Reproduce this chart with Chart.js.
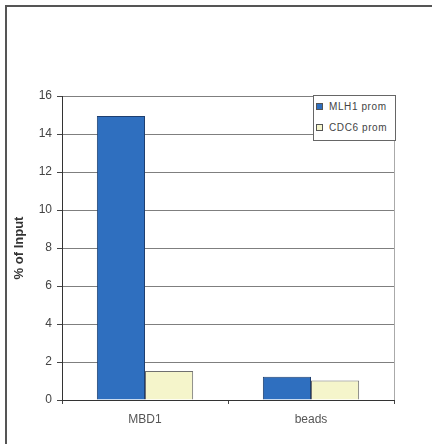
<!DOCTYPE html>
<html lang="en">
<head>
  <meta charset="UTF-8" />
  <title>% of Input</title>
  <script src="https://cdn.jsdelivr.net/npm/chart.js"></script>
  <style>
    html, body { margin: 0; padding: 0; background: #fff; }
    #wrap { position: relative; width: 432px; height: 444px; overflow: hidden; }
    #marco { position: absolute; left: 5px; top: 5px; width: 500px; height: 500px;
             border-left: 2px solid #555; border-top: 2px solid #555; }
    #grafica { position: absolute; left: 0; top: 0; }
    #leyenda { position: absolute; left: 313px; top: 95px; width: 81px; height: 44px;
               border: 1px solid #666; background: #fff; font: 10px Arial, "Liberation Sans", sans-serif;
               color: #444; letter-spacing: 0.6px; }
    #leyenda div { height: 21px; line-height: 22px; padding-left: 2px; white-space: nowrap; }
    #leyenda span.cuadro { display: inline-block; width: 5px; height: 5px; margin-right: 6px;
                           vertical-align: 0px; border: 1px solid #555; }
  </style>
</head>
<body>
  <div id="wrap">
    <div id="marco"></div>
    <canvas id="grafica" width="432" height="444"></canvas>
    <div id="leyenda"></div>
  </div>

  <script>
    // datos
    const categorias = ['MBD1', 'beads'];
    const series = ['MLH1 prom', 'CDC6 prom'];
    const mlh1 = [14.95, 1.22];
    const cdc6 = [1.53, 1.02];
    const colores = ['#2f6fbf', '#f5f5cb'];
    const bordes = ['#1e3f70', '#707070'];
    const yMin = 0, yMax = 16, yPaso = 2;

    // borde derecho del area de trazado
    const bordeArea = {
      id: 'bordeArea',
      beforeDatasetsDraw(chart) {
        const { ctx, chartArea: a } = chart;
        ctx.save();
        ctx.strokeStyle = '#aaa';
        ctx.lineWidth = 1;
        ctx.beginPath();
        ctx.moveTo(a.right + 0.5, a.top);
        ctx.lineTo(a.right + 0.5, a.bottom);
        ctx.stroke();
        ctx.restore();
      }
    };

    const fuente = { family: 'Arial, "Liberation Sans", sans-serif', size: 12 };

    const chart = new Chart(document.getElementById('grafica'), {
      type: 'bar',
      data: {
        labels: categorias,
        datasets: [mlh1, cdc6].map((valores, i) => ({
          label: series[i],
          data: valores,
          backgroundColor: colores[i],
          borderColor: bordes[i],
          borderWidth: 1,
          barPercentage: 1,
          categoryPercentage: 0.58
        }))
      },
      options: {
        responsive: false,
        animation: false,
        layout: { padding: { left: 0, top: 96, right: 38, bottom: 0 } },
        plugins: { legend: { display: false }, tooltip: { enabled: false } },
        scales: {
          x: {
            grid: { offset: true, drawOnChartArea: false, drawTicks: true, tickLength: 4, color: '#444' },
            border: { color: '#333', width: 1 },
            ticks: { color: '#555', font: fuente, padding: 8 },
            afterFit(scale) { scale.height = 44; }
          },
          y: {
            min: yMin,
            max: yMax,
            ticks: { stepSize: yPaso, color: '#444', font: fuente, padding: 5 },
            grid: { color: '#7f7f7f', tickColor: '#444', tickLength: 5, lineWidth: 1 },
            border: { color: '#333', width: 1 },
            title: {
              display: true,
              text: '% of Input',
              color: '#333',
              font: { family: fuente.family, size: 13, weight: 'bold' },
              padding: { top: 12, bottom: 0 }
            },
            afterFit(scale) { scale.width = 62; }
          }
        }
      },
      plugins: [bordeArea]
    });

    // leyenda con recuadro, como en el original
    const leyenda = document.getElementById('leyenda');
    chart.data.datasets.forEach(d => {
      const fila = document.createElement('div');
      fila.innerHTML = `<span class="cuadro" style="background:${d.backgroundColor}"></span>${d.label}`;
      leyenda.appendChild(fila);
    });
  </script>
</body>
</html>
